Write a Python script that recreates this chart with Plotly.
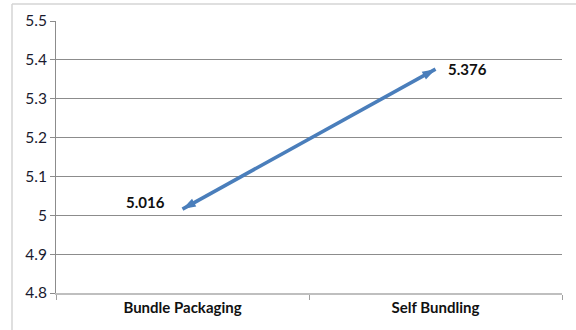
import plotly.graph_objects as go

categories = ["Bundle Packaging", "Self Bundling"]
values = [5.016, 5.376]
labels = ["5.016", "5.376"]
y_ticks = [4.8, 4.9, 5.0, 5.1, 5.2, 5.3, 5.4, 5.5]
y_tick_text = ["4.8", "4.9", "5", "5.1", "5.2", "5.3", "5.4", "5.5"]

line_color = "#4a7ebb"
label_font = dict(family="Lato, Open Sans, sans-serif", size=15, color="#111111", weight="bold")

fig = go.Figure()
fig.add_trace(go.Scatter(
    x=categories, y=values, mode="lines+markers",
    line=dict(color=line_color, width=3.6),
    marker=dict(symbol="arrow", size=14, color=line_color, angle=[241, 61],
                line=dict(width=0)),
    cliponaxis=False, showlegend=False,
))

label_offsets = [(-16, 7, "right"), (10, 0, "left")]
for cat, val, txt, (dx, dy, anc) in zip(categories, values, labels, label_offsets):
    fig.add_annotation(x=cat, y=val, text=txt, showarrow=False,
                       xanchor=anc, yanchor="middle", xshift=dx, yshift=dy,
                       font=label_font)

fig.update_layout(
    width=576, height=330,
    margin=dict(l=56, r=14, t=21, b=37),
    paper_bgcolor="white", plot_bgcolor="white",
    font=dict(family="Lato, Open Sans, sans-serif", size=13, color="#1a1a2e"),
    xaxis=dict(
        type="category", range=[-0.5, 1.5], showgrid=False,
        showline=True, linecolor="#bfbfbf", linewidth=2,
        ticks="outside", tickson="boundaries", ticklen=5, tickcolor="#a0a0a0",
        tickfont=dict(size=15, weight="bold", color="#111111"),
        zeroline=False, fixedrange=True,
    ),
    yaxis=dict(
        range=[4.8, 5.5], tickvals=y_ticks, ticktext=y_tick_text,
        showgrid=True, gridcolor="#8c8c8c", gridwidth=1,
        showline=True, linecolor="#8c8c8c", linewidth=1,
        ticks="outside", ticklen=5, tickcolor="#8c8c8c",
        tickfont=dict(size=15.5),
        zeroline=False, fixedrange=True,
    ),
    shapes=[
        dict(type="line", xref="paper", yref="paper", x0=-44/506, x1=520/506,
             y0=1+17/272, y1=1+17/272, line=dict(color="#d4d4d4", width=1.5)),
        dict(type="line", xref="paper", yref="paper", x0=-44/506, x1=-44/506,
             y0=-37/272, y1=1+17/272, line=dict(color="#d4d4d4", width=1.5)),
    ],
)

fig.write_html("out.html")
